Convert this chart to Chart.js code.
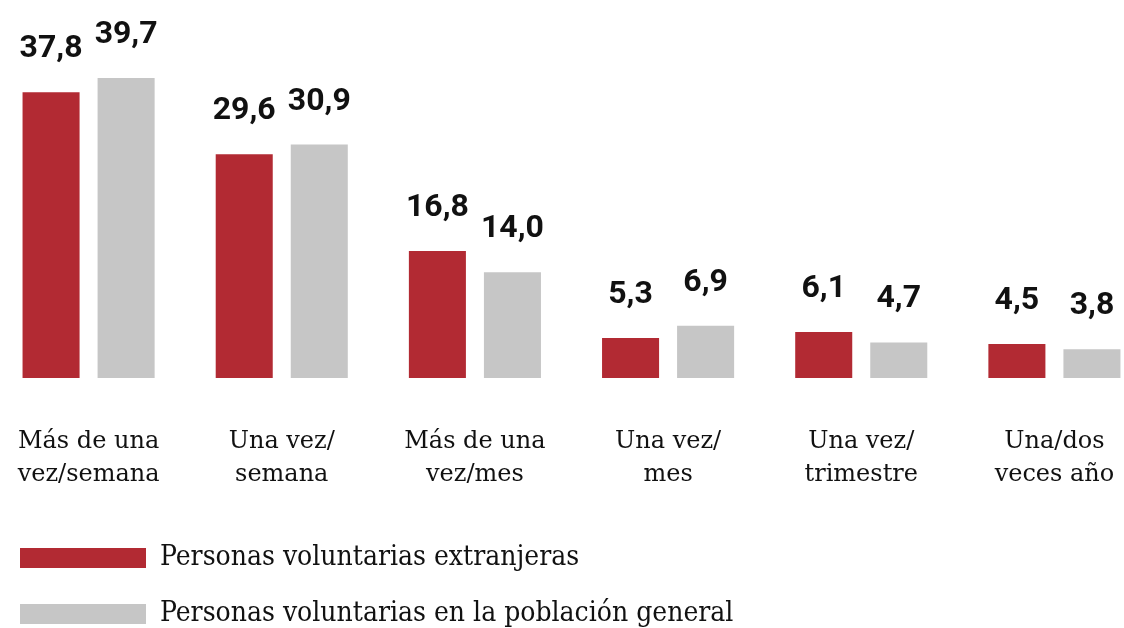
<!DOCTYPE html>
<html>
<head>
<meta charset="utf-8">
<script src="https://cdn.jsdelivr.net/npm/chart.js@4.4.1/dist/chart.umd.min.js"></script>
<style>
  html, body { margin: 0; padding: 0; background: #fff; overflow: hidden; }
  #caja { position: absolute; left: -8px; top: 10px; width: 1159px; height: 628px; }
</style>
</head>
<body>
<div id="caja"><canvas id="grafico"></canvas></div>
<script>
// datos
const categorias = [
    ["Más de una", "vez/semana"],
    ["Una vez/", "semana"],
    ["Más de una", "vez/mes"],
    ["Una vez/", "mes"],
    ["Una vez/", "trimestre"],
    ["Una/dos", "veces año"]
];
const extranjeras = [37.8, 29.6, 16.8, 5.3, 6.1, 4.5];
const poblacionGeneral = [39.7, 30.9, 14.0, 6.9, 4.7, 3.8];
const nombresSeries = ["Personas voluntarias extranjeras", "Personas voluntarias en la población general"];

const rojo = "#b22a33";
const gris = "#c6c6c6";

// etiquetas de valor encima de cada barra
const etiquetasValor = {
    id: "etiquetasValor",
    afterDatasetsDraw(chart) {
        const ctx = chart.ctx;
        ctx.save();
        ctx.font = "bold 32px Roboto";
        ctx.fillStyle = "#111";
        ctx.textAlign = "center";
        ctx.textBaseline = "alphabetic";
        chart.data.datasets.forEach((ds, i) => {
            chart.getDatasetMeta(i).data.forEach((barra, j) => {
                let texto = ds.data[j].toFixed(1).replace(".", ",");
                ctx.fillText(texto, barra.x, barra.y - 35);
            });
        });
        ctx.restore();
    }
};

new Chart(document.getElementById("grafico"), {
    type: "bar",
    data: {
        labels: categorias,
        datasets: [
            { label: nombresSeries[0], data: extranjeras, backgroundColor: rojo },
            { label: nombresSeries[1], data: poblacionGeneral, backgroundColor: gris }
        ]
    },
    options: {
        responsive: true,
        maintainAspectRatio: false,
        animation: false,
        categoryPercentage: 0.777,
        barPercentage: 0.76,
        layout: { padding: 0 },
        scales: {
            x: {
                grid: { display: false },
                border: { display: false },
                ticks: {
                    color: "#111",
                    font: { family: "'DejaVu Serif'", size: 24, lineHeight: 1.375 },
                    padding: 39,
                    maxRotation: 0
                },
                afterFit(scale) {
                    scale.height = 138;
                    scale.paddingLeft = 0;
                    scale.paddingRight = 0;
                }
            },
            y: {
                display: false,
                min: 0,
                max: 48.7
            }
        },
        plugins: {
            tooltip: { enabled: false },
            legend: {
                position: "bottom",
                align: "start",
                labels: {
                    boxWidth: 126,
                    boxHeight: 20,
                    padding: 28,
                    color: "#111",
                    font: { family: "'DejaVu Serif Condensed', 'DejaVu Serif'", size: 28 }
                }
            }
        }
    },
    plugins: [etiquetasValor]
});
</script>
</body>
</html>
